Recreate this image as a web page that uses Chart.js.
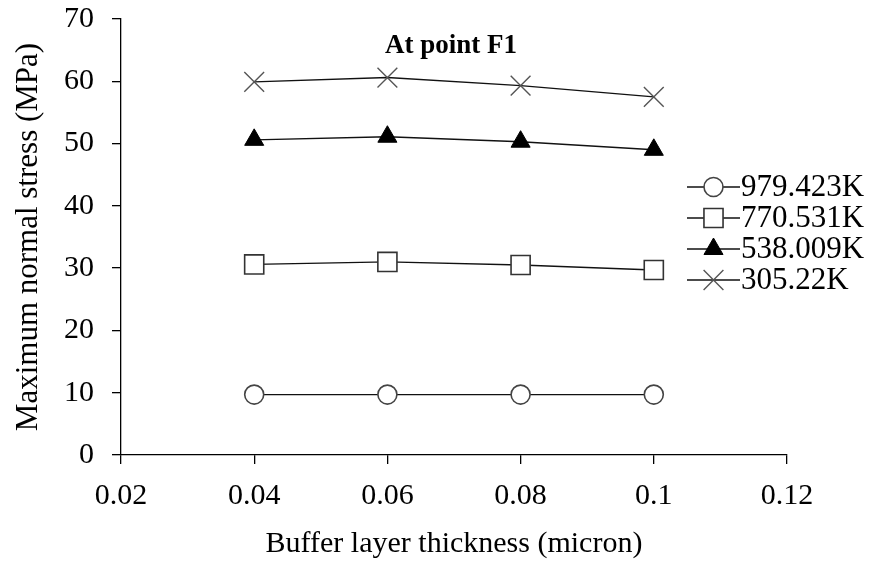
<!DOCTYPE html>
<html>
<head>
<meta charset="utf-8">
<script src="https://cdn.jsdelivr.net/npm/chart.js@4/dist/chart.umd.min.js"></script>
<style>
  html, body { margin: 0; padding: 0; background: #fff; }
  #wrap { width: 881px; height: 566px; }
</style>
</head>
<body>
<div id="wrap"><canvas id="stress-chart" width="881" height="566"></canvas></div>
<script>
// buffer layer thickness (micron)
const thickness = [0.04, 0.06, 0.08, 0.1];
const temps = ['979.423K', '770.531K', '538.009K', '305.22K'];
const stress979 = [9.7, 9.7, 9.7, 9.7];
const stress770 = [30.6, 31.0, 30.5, 29.7];
const stress538 = [50.6, 51.1, 50.3, 49.0];
const stress305 = [59.9, 60.6, 59.3, 57.5];
const xTicks = [0.02, 0.04, 0.06, 0.08, 0.1, 0.12];
const yTicks = [0, 10, 20, 30, 40, 50, 60, 70];

const serif = "'Liberation Serif', 'Times New Roman', serif";

const toPts = vals => vals.map((v, i) => ({ x: thickness[i], y: v }));

const styles = [
  { pointStyle: 'circle', pointRadius: 9.5, bg: '#fff', border: '#444', bw: 1.6 },
  { pointStyle: 'rect', pointRadius: 13.5, bg: '#fff', border: '#333', bw: 1.6 },
  { pointStyle: 'triangle', pointRadius: 11, bg: '#000', border: '#000', bw: 1 },
  { pointStyle: 'crossRot', pointRadius: 14, bg: '#fff', border: '#555', bw: 1.4 }
];
const allSeries = [stress979, stress770, stress538, stress305];

const datasets = allSeries.map((vals, i) => ({
  label: temps[i],
  data: toPts(vals),
  borderColor: '#111',
  borderWidth: 1.4,
  pointStyle: styles[i].pointStyle,
  pointRadius: styles[i].pointRadius,
  pointBackgroundColor: styles[i].bg,
  pointBorderColor: styles[i].border,
  pointBorderWidth: styles[i].bw,
  fill: false,
  tension: 0
}));

// title inside plot + legend with line-marker-line
const extras = {
  id: 'extras',
  afterDraw(chart) {
    const ctx = chart.ctx;
    const area = chart.chartArea;
    ctx.save();
    ctx.fillStyle = '#000';
    ctx.font = 'bold 27px ' + serif;
    ctx.textAlign = 'center';
    ctx.textBaseline = 'middle';
    ctx.fillText('At point F1', (area.left + area.right) / 2 - 3, area.top + 27);

    ctx.font = '31px ' + serif;
    ctx.textAlign = 'left';
    chart.data.datasets.forEach((ds, i) => {
      const y = 187 + i * 31;
      const x0 = 687, x1 = 740;
      ctx.strokeStyle = '#111';
      ctx.lineWidth = 1.4;
      ctx.beginPath();
      ctx.moveTo(x0, y);
      ctx.lineTo(x1, y);
      ctx.stroke();
      ctx.fillStyle = ds.pointBackgroundColor;
      ctx.strokeStyle = ds.pointBorderColor;
      ctx.lineWidth = ds.pointBorderWidth;
      Chart.helpers.drawPoint(ctx, {
        pointStyle: ds.pointStyle,
        radius: ds.pointRadius,
        borderWidth: ds.pointBorderWidth
      }, (x0 + x1) / 2, y);
      ctx.fillStyle = '#000';
      ctx.fillText(ds.label, x1 + 1, y + 1);
    });
    ctx.restore();
  }
};

new Chart(document.getElementById('stress-chart'), {
  type: 'line',
  data: { datasets },
  plugins: [extras],
  options: {
    responsive: false,
    animation: false,
    layout: { padding: { top: 19, right: 94, left: 0, bottom: 0 } },
    plugins: { legend: { display: false }, tooltip: { enabled: false } },
    scales: {
      x: {
        type: 'linear',
        min: 0.02,
        max: 0.12,
        afterBuildTicks: s => { s.ticks = xTicks.map(v => ({ value: v })); },
        afterFit: s => { s.height = 111; s.paddingLeft = 0; s.paddingRight = 0; },
        border: { color: '#000', width: 1.3 },
        grid: { drawOnChartArea: false, color: '#000', tickLength: 9, lineWidth: 1.3 },
        ticks: {
          color: '#000',
          font: { family: serif, size: 30 },
          padding: 14,
          maxRotation: 0,
          callback: v => String(Number(v.toFixed(2)))
        },
        title: {
          display: true,
          text: 'Buffer layer thickness (micron)',
          color: '#000',
          font: { family: serif, size: 30 },
          padding: { top: 4, bottom: 4 }
        }
      },
      y: {
        min: 0,
        max: 70,
        afterBuildTicks: s => { s.ticks = yTicks.map(v => ({ value: v })); },
        afterFit: s => { s.width = 121; s.paddingTop = 0; s.paddingBottom = 0; },
        border: { color: '#000', width: 1.3 },
        grid: { drawOnChartArea: false, color: '#000', tickLength: 9, lineWidth: 1.3 },
        ticks: {
          color: '#000',
          font: { family: serif, size: 30 },
          padding: 18
        },
        title: {
          display: true,
          text: 'Maximum normal stress (MPa)',
          color: '#000',
          font: { family: serif, size: 31 },
          padding: { top: 10, bottom: 10 }
        }
      }
    }
  }
});
</script>
</body>
</html>
